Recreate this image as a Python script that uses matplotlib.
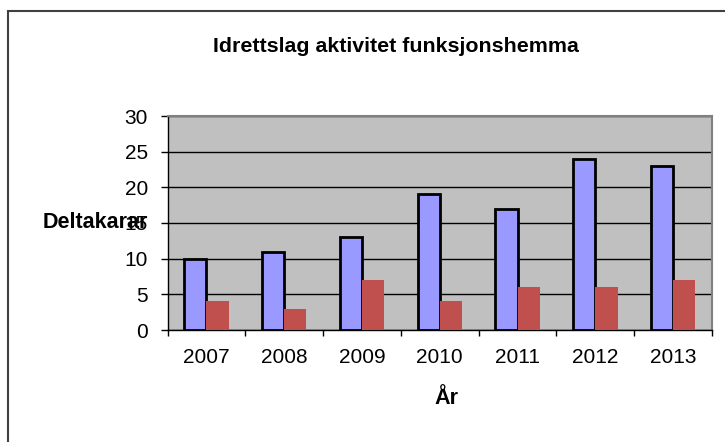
import matplotlib
matplotlib.use("Agg")
import matplotlib.pyplot as plt
import numpy as np
from matplotlib.patches import Rectangle

plt.rcParams['font.family'] = ['Liberation Sans', 'DejaVu Sans']

years = ['2007', '2008', '2009', '2010', '2011', '2012', '2013']
series_a = [10, 11, 13, 19, 17, 24, 23]
series_b = [4, 3, 7, 4, 6, 6, 7]
yticks = [0, 5, 10, 15, 20, 25, 30]

W, H = 725, 442
fig = plt.figure(figsize=(W/100, H/100), dpi=100)
fig.patch.set_facecolor('white')

# outer chart border (only top/left visible)
fig.add_artist(Rectangle((7.5/W, -0.1), 1.2, 1.1 - 11/H, transform=fig.transFigure,
                         fill=False, edgecolor='#404040', linewidth=1.5))

left, right, top, bottom = 167.5, 712, 116, 330
ax = fig.add_axes([left/W, 1 - bottom/H, (right-left)/W, (bottom-top)/H])
ax.set_facecolor('#C0C0C0')

x = np.arange(len(years))
bw = 1/3.5
ax.bar(x - bw/2, series_a, width=bw, color='#9999FF', edgecolor='black', linewidth=2, zorder=3)
ax.bar(x + bw/2, series_b, width=bw, color='#C0504D', edgecolor='none', zorder=3)

ax.set_xlim(-0.5, len(years) - 0.5)
ax.set_ylim(0, 30)
ax.set_yticks(yticks)
ax.set_yticklabels([str(v) for v in yticks], fontsize=15)
ax.yaxis.grid(True, color='black', linewidth=1, zorder=1)
ax.set_axisbelow(True)

ax.set_xticks(x)
ax.set_xticklabels(years, fontsize=15)
ax.tick_params(axis='x', length=0, pad=13)
ax.set_xticks(np.arange(-0.5, len(years)), minor=True)
ax.tick_params(axis='x', which='minor', length=4.5, width=1, color='black', direction='out')
ax.tick_params(axis='y', length=4.7, width=1, color='black', direction='out', pad=9.4)

for s in ['top', 'right']:
    ax.spines[s].set_color('#808080')
    ax.spines[s].set_linewidth(1.5)
for s in ['left', 'bottom']:
    ax.spines[s].set_color('black')
    ax.spines[s].set_linewidth(1)

fig.text(396/W, 1 - 46/H, 'Idrettslag aktivitet funksjonshemma', ha='center', va='center',
         fontsize=15.4, fontweight='bold')
fig.text(42.5/W, 1 - 222/H, 'Deltakarar', ha='left', va='center', fontsize=15.5, fontweight='bold')
fig.text(446/W, 1 - 398/H, 'År', ha='center', va='center', fontsize=15.5, fontweight='bold')

fig.savefig('out.png', dpi=100, facecolor='white')
